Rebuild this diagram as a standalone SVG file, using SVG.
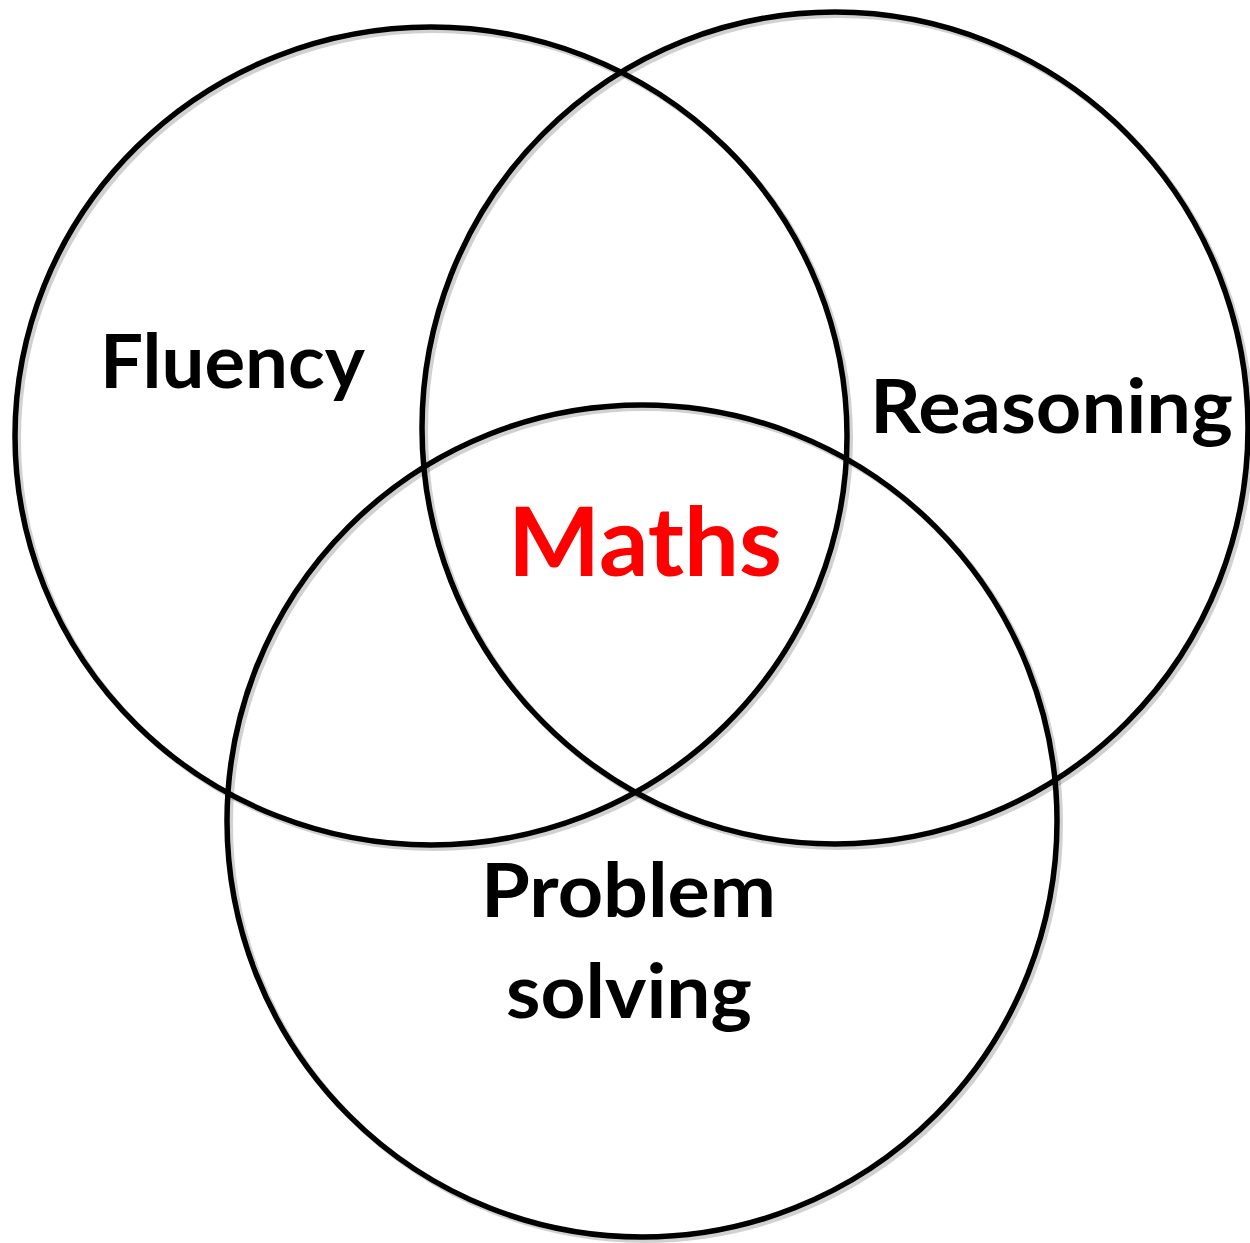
<svg xmlns="http://www.w3.org/2000/svg" width="1250" height="1243" viewBox="0 0 1250 1243">
<defs>
<style>
.c{fill:none;stroke:#000;stroke-width:5.5}
.sh{fill:none;stroke:#000;stroke-opacity:0.18;stroke-width:6}
.t{font-family:Lato,"Open Sans",sans-serif;font-weight:bold;font-size:74px;fill:#000}
.m{font-family:Lato,"Open Sans",sans-serif;font-weight:bold;font-size:95px;fill:#ff0000}
</style>
</defs>
<rect width="1250" height="1243" fill="#fff"/>
<g id="shadows">
<ellipse class="sh" cx="434" cy="439" rx="416" ry="409"/>
<ellipse class="sh" cx="838" cy="431" rx="413" ry="416"/>
<ellipse class="sh" cx="645" cy="824" rx="415" ry="416"/>
</g>
<g id="fluency">
<ellipse class="c" cx="431" cy="436" rx="416" ry="409"/>
<text class="t" x="100" y="388" textLength="265" lengthAdjust="spacingAndGlyphs">Fluency</text>
</g>
<g id="reasoning">
<ellipse class="c" cx="835" cy="428" rx="413" ry="416"/>
<text class="t" x="870" y="433" textLength="363" lengthAdjust="spacingAndGlyphs">Reasoning</text>
</g>
<g id="problem-solving">
<ellipse class="c" cx="642" cy="821" rx="415" ry="416"/>
<text class="t" x="481" y="917" textLength="295" lengthAdjust="spacingAndGlyphs">Problem</text>
<text class="t" x="506" y="1018" textLength="246" lengthAdjust="spacingAndGlyphs">solving</text>
</g>
<g id="maths">
<text class="m" x="508" y="576" textLength="274" lengthAdjust="spacingAndGlyphs">Maths</text>
</g>
<g id="connectors"/>
</svg>
